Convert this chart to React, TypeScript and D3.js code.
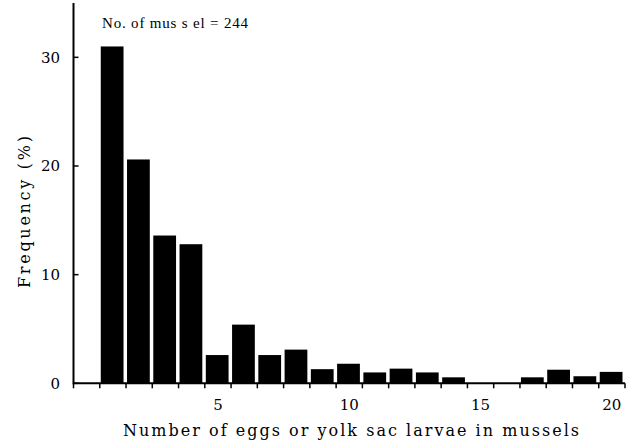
import * as d3 from "d3";

// number of eggs / yolk sac larvae per mussel
const counts = [1, 2, 3, 4, 5, 6, 7, 8, 9, 10, 11, 12, 13, 14, 15, 16, 17, 18, 19, 20];
// frequency (%)
const freq = [31.0, 20.6, 13.6, 12.8, 2.6, 5.4, 2.6, 3.1, 1.3, 1.8, 1.0, 1.35, 1.0, 0.55, 0, 0, 0.55, 1.25, 0.65, 1.05];
const xTickLabels = [5, 10, 15, 20];
const yTicks = [0, 10, 20, 30];
const boundaries = d3.range(-0.5, 21, 1);

const W = 633;
const H = 443;

export default function App() {
  const x = d3.scaleLinear().domain([-0.5, 20.5]).range([73.5, 625]);
  const y = d3.scaleLinear().domain([0, 35]).range([383.3, 3]);
  const step = x(1) - x(0);
  const font = "'DejaVu Serif', serif";

  return (
    <svg width={W} height={H} style={{ position: "absolute", left: 0, top: 0, background: "#fff" }}>
      {/* bars */}
      {counts.map((c, i) =>
        freq[i] > 0 ? (
          <rect
            key={c}
            x={x(c - 0.5) + 1}
            y={y(freq[i])}
            width={step - 3.5}
            height={y(0) - y(freq[i])}
            fill="#000"
          />
        ) : null
      )}

      {/* axes */}
      <line x1={x(-0.5)} x2={x(-0.5)} y1={y(35)} y2={y(0) + 1} stroke="#000" strokeWidth={2} />
      <line x1={x(-0.5)} x2={x(20.5)} y1={y(0)} y2={y(0)} stroke="#000" strokeWidth={2} />
      {boundaries.map((b) => (
        <line key={b} x1={x(b)} x2={x(b)} y1={y(0)} y2={y(0) + 5} stroke="#000" strokeWidth={1.5} />
      ))}
      {yTicks.map((t) => (
        <line key={t} x1={x(-0.5)} x2={x(-0.5) + 5} y1={y(t)} y2={y(t)} stroke="#000" strokeWidth={1.5} />
      ))}

      {/* tick labels */}
      {yTicks.map((t) => (
        <text key={t} x={60} y={y(t)} dy="0.35em" textAnchor="end" fontFamily={font} fontSize={15} fill="#000">
          {t}
        </text>
      ))}
      {xTickLabels.map((t) => (
        <text key={t} x={x(t)} y={410} textAnchor="middle" fontFamily={font} fontSize={15} fill="#000">
          {t}
        </text>
      ))}

      {/* axis titles */}
      <text
        x={351}
        y={436}
        textAnchor="middle"
        fontFamily={font}
        fontSize={16}
        textLength={456}
        lengthAdjust="spacing"
        fill="#000"
      >
        Number of eggs or yolk sac larvae in mussels
      </text>
      <text
        transform="translate(30,212) rotate(-90)"
        textAnchor="middle"
        fontFamily={font}
        fontSize={16}
        textLength={152}
        lengthAdjust="spacing"
        fill="#000"
      >
        Frequency (%)
      </text>

      {/* annotation */}
      <text x={102} y={28} fontFamily="'Liberation Serif', serif" fontSize={15} textLength={146} lengthAdjust="spacing" fill="#000">
        No. of mus s el = 244
      </text>
    </svg>
  );
}
